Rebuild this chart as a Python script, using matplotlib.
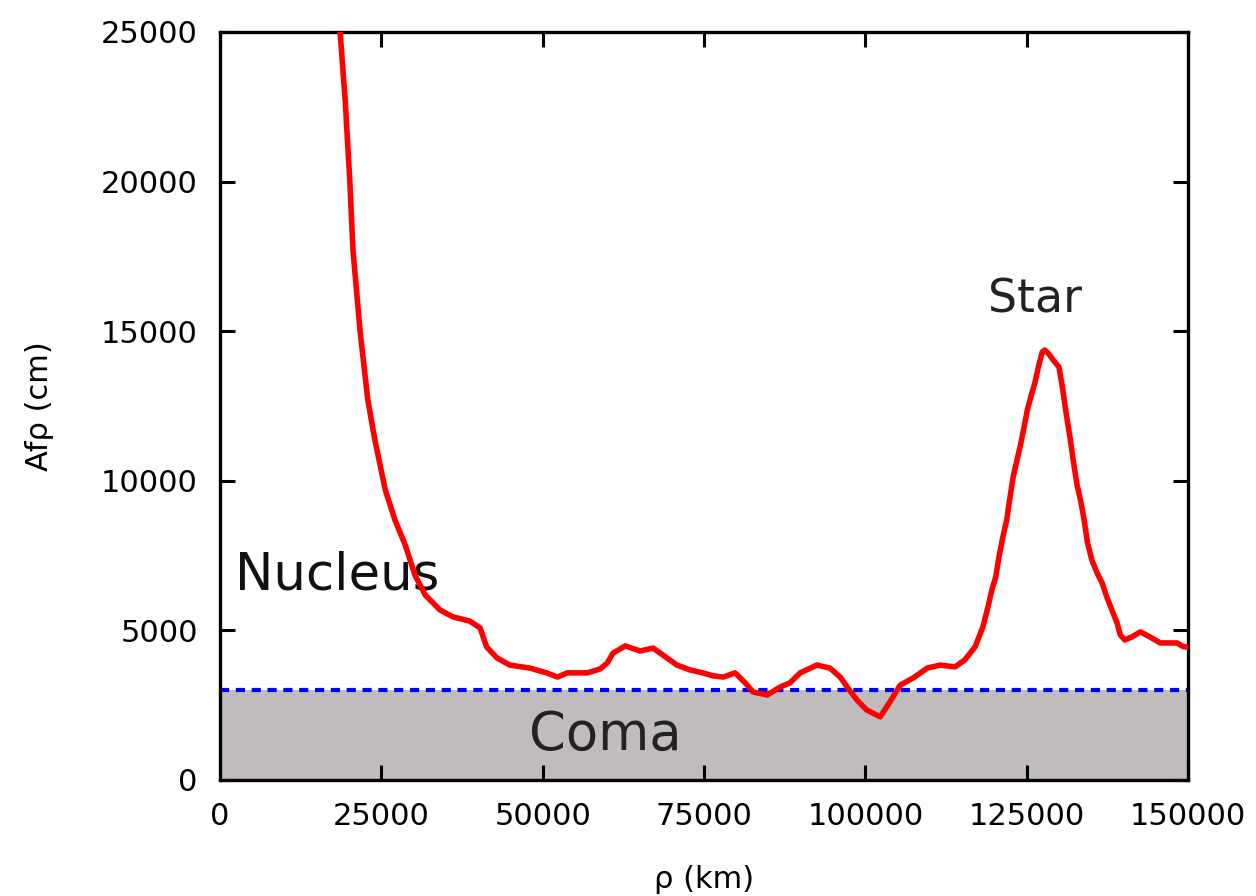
import matplotlib
matplotlib.use("Agg")
import matplotlib.pyplot as plt
import numpy as np

# Afρ radial profile (projected distance in km, Afρ in cm)
rho_km = [18000, 18600, 19400, 20100, 20600, 21700, 22900, 24000, 25600, 27100,
          28700, 30200, 31800, 34100, 36100, 38700, 40300, 41300, 42900, 44900,
          48000, 50600, 52300, 53800, 56900, 58900, 60000, 60900, 62800, 65100,
          67100, 68600, 70800, 72800, 74800, 76400, 78000, 79800, 81400, 82600,
          84800, 86800, 88300, 89900, 92500, 94500, 96100, 97300, 98700, 100200,
          102300, 103800, 105400, 107400, 109600, 111600, 113900, 115400, 117000, 118200,
          119000, 119600, 120200, 120700, 121300, 121900, 122300, 122900, 123500, 124100,
          124600, 125100, 125800, 126300, 126800, 127400, 127800, 128300, 129100, 130000,
          130600, 131100, 131700, 132200, 132800, 133400, 133900, 134400, 135100, 135900,
          136700, 137400, 138200, 139000, 139500, 140200, 141300, 142600, 144100, 145700,
          148300, 149300, 150000]
afrho_cm = [28500, 25000, 22700, 20050, 17700, 15000, 12700, 11360, 9700, 8690,
            7850, 6850, 6180, 5680, 5450, 5310, 5080, 4450, 4080, 3840,
            3740, 3580, 3440, 3580, 3580, 3710, 3910, 4240, 4480, 4310,
            4410, 4180, 3840, 3680, 3580, 3480, 3440, 3580, 3240, 2940,
            2840, 3110, 3240, 3580, 3840, 3740, 3440, 3070, 2670, 2340,
            2110, 2610, 3170, 3410, 3740, 3840, 3780, 4010, 4450, 5110,
            5780, 6350, 6780, 7450, 8120, 8690, 9290, 10130, 10690, 11260,
            11800, 12370, 12930, 13300, 13800, 14300, 14370, 14270, 14040, 13800,
            13030, 12270, 11460, 10690, 9860, 9290, 8690, 7950, 7350, 6920,
            6580, 6120, 5680, 5250, 4850, 4680, 4780, 4950, 4780, 4580,
            4580, 4450, 4450]

coma_level = 3000
x_ticks = [0, 25000, 50000, 75000, 100000, 125000, 150000]
y_ticks = [0, 5000, 10000, 15000, 20000, 25000]

fig = plt.figure(figsize=(12.56, 8.96), dpi=100)
ax = fig.add_axes([0.1752, 0.1295, 0.9459 - 0.1752, 0.9643 - 0.1295])

ax.fill_between([0, 150000], 0, coma_level, color="#c1bcbc", lw=0, zorder=1)
ax.axhline(coma_level, color="#0000ff", lw=3.0, linestyle=(0, (2.2, 1.6)), zorder=2)
ax.plot(rho_km, afrho_cm, color="#ff0000", lw=4.0, zorder=3)

ax.set_xlim(0, 150000)
ax.set_ylim(0, 25000)
ax.set_xticks(x_ticks)
ax.set_yticks(y_ticks)
ax.set_xticklabels([str(v) for v in x_ticks])
ax.set_yticklabels([str(v) for v in y_ticks])

ax.tick_params(direction="in", length=11, width=2.2, top=True, right=True,
               labelsize=22, pad=16)
for s in ax.spines.values():
    s.set_linewidth(2.4)

ax.set_xlabel("ρ (km)", fontsize=22, labelpad=24)
ax.set_ylabel("Afρ (cm)", fontsize=22, labelpad=34)

ax.text(2300, 6850, "Nucleus", fontsize=37, ha="left", va="center", color="#111111", zorder=2)
ax.text(59700, 1500, "Coma", fontsize=38, ha="center", va="center", color="#222222", zorder=2)
ax.text(126300, 16050, "Star", fontsize=33, ha="center", va="center", color="#222222", zorder=2)

fig.savefig("out.png", dpi=100)
